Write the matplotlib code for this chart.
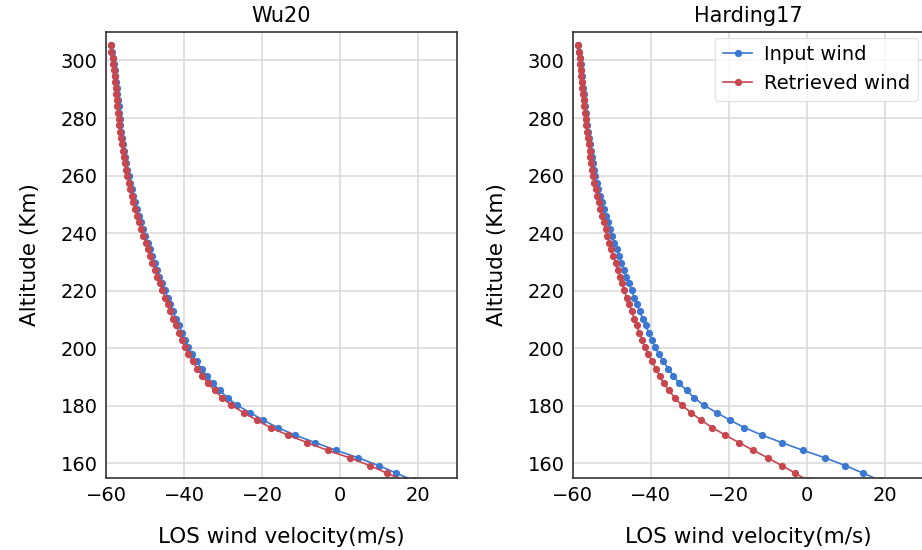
import matplotlib.pyplot as plt

# altitude grid (km), shared by every profile
altitude = [305.2, 303.1, 301.0, 298.9, 296.8, 294.7, 292.6, 290.5, 288.3, 286.2,
            284.0, 281.9, 279.7, 277.5, 275.3, 273.1, 270.9, 268.7, 266.5, 264.2,
            262.0, 259.7, 257.5, 255.2, 252.9, 250.7, 248.4, 246.0, 243.7, 241.4,
            239.1, 236.7, 234.4, 232.0, 229.6, 227.3, 224.9, 222.5, 220.1, 217.6,
            215.2, 212.8, 210.3, 207.9, 205.4, 202.9, 200.4, 197.9, 195.4, 192.9,
            190.4, 187.8, 185.3, 182.7, 180.2, 177.6, 175.0, 172.4, 169.8, 167.2,
            164.5, 161.9, 159.2, 156.6, 153.9]

input_wind = [-58.6, -58.4, -58.1, -57.9, -57.8, -57.6, -57.5, -57.3, -57.2, -57.0,
              -56.8, -56.7, -56.5, -56.3, -56.1, -55.8, -55.6, -55.4, -55.1, -54.8,
              -54.5, -54.2, -53.8, -53.4, -53.0, -52.6, -52.1, -51.6, -51.0, -50.5,
              -49.9, -49.3, -48.7, -48.1, -47.5, -46.9, -46.3, -45.6, -44.9, -44.2,
              -43.5, -42.8, -42.1, -41.3, -40.5, -39.7, -38.9, -37.9, -36.8, -35.5,
              -34.2, -32.7, -30.8, -28.8, -26.4, -23.1, -19.7, -16.0, -11.5, -6.4,
              -1.0, 4.7, 9.9, 14.4, 19.0]

wu20_retrieved = [-58.8, -58.6, -58.3, -58.1, -58.0, -57.8, -57.7, -57.5, -57.4, -57.3,
                  -57.1, -57.0, -56.8, -56.6, -56.4, -56.1, -55.9, -55.7, -55.5, -55.2,
                  -54.9, -54.6, -54.2, -53.8, -53.4, -53.0, -52.6, -52.1, -51.5, -51.0,
                  -50.4, -49.8, -49.3, -48.7, -48.1, -47.5, -46.9, -46.2, -45.6, -44.9,
                  -44.2, -43.6, -42.9, -42.1, -41.3, -40.6, -39.8, -38.9, -37.8, -36.6,
                  -35.3, -33.9, -32.1, -30.2, -27.9, -24.7, -21.4, -17.8, -13.4, -8.4,
                  -3.2, 2.5, 7.6, 12.0, 16.6]

harding17_retrieved = [-58.6, -58.4, -58.2, -58.1, -57.9, -57.8, -57.6, -57.5, -57.3, -57.2,
                       -57.0, -56.9, -56.7, -56.5, -56.3, -56.1, -55.9, -55.7, -55.5, -55.3,
                       -55.1, -54.8, -54.5, -54.1, -53.7, -53.3, -52.9, -52.5, -52.0, -51.6,
                       -51.1, -50.6, -50.1, -49.6, -49.0, -48.5, -47.9, -47.3, -46.8, -46.2,
                       -45.5, -44.9, -44.2, -43.6, -42.9, -42.2, -41.6, -40.6, -39.7, -38.7,
                       -37.7, -36.7, -35.3, -33.8, -32.0, -29.7, -27.1, -24.2, -20.9, -17.4,
                       -13.7, -10.0, -6.4, -3.0, 0.4]

titles = ['Wu20', 'Harding17']
retrieved = [wu20_retrieved, harding17_retrieved]
x_ticks = [-60, -40, -20, 0, 20]
y_ticks = [160, 180, 200, 220, 240, 260, 280, 300]

blue = '#3a78d2'
red = '#c8464e'

fig = plt.figure(figsize=(9.22, 5.5), dpi=100)
axes = [fig.add_axes([0.115, 0.1315, 0.3807, 0.8109]),
        fig.add_axes([0.6212, 0.1315, 0.3807, 0.8109])]

for ax, title, ret in zip(axes, titles, retrieved):
    ax.plot(input_wind, altitude, '-o', color=blue, lw=1.2, ms=4.2, label='Input wind')
    ax.plot(ret, altitude, '-o', color=red, lw=1.2, ms=4.2, label='Retrieved wind')
    ax.set_xlim(-60, 30)
    ax.set_ylim(155, 310)
    ax.set_xticks(x_ticks)
    ax.set_yticks(y_ticks)
    ax.grid(True, color='#d9d9d9', lw=1.1)
    ax.set_axisbelow(True)
    ax.tick_params(length=0, labelsize=14, pad=6)
    for s in ax.spines.values():
        s.set_color('#333333')
        s.set_linewidth(1.2)
    ax.set_title(title, fontsize=15, pad=7)
    ax.set_xlabel('LOS wind velocity(m/s)', fontsize=15.5, labelpad=16)
    ax.set_ylabel('Altitude (Km)', fontsize=15.5, labelpad=15)

axes[1].legend(loc='upper right', fontsize=14, framealpha=0.8, edgecolor='#dddddd',
               fancybox=True, borderaxespad=0.3, handlelength=1.5, handletextpad=0.6)

fig.savefig('out.png', dpi=100)
